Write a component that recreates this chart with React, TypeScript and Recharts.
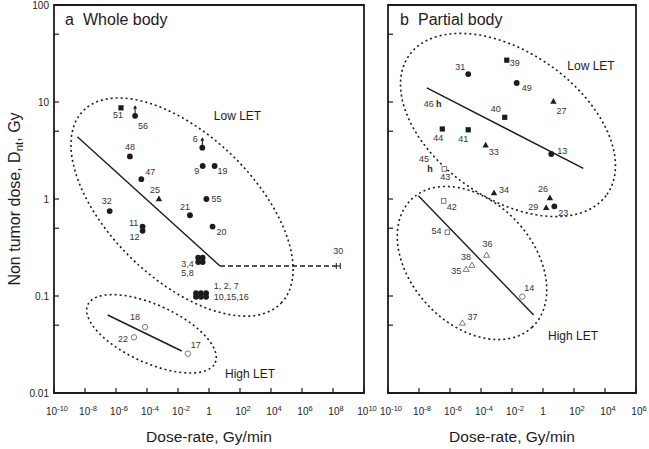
import React from "react";
import { ScatterChart, Scatter, XAxis, YAxis, ReferenceArea } from "recharts";

const FONT = "'Liberation Sans', Arial, Helvetica, sans-serif";
const INK = "#1c1c1c";
const OPEN = "#5a5a5a";

type Pt = { x: number; y: number; id: string };
type Ring = { c: number[]; u: number[]; v: number[] }; // centre + half axes, in decades

// ---------- panel a: whole body ----------
const A_DOTS: Pt[] = [
  { x: 7.9e-6, y: 2.75, id: "48" },
  { x: 4.3e-5, y: 1.6, id: "47" },
  { x: 0.39, y: 2.19, id: "9" },
  { x: 2.3, y: 2.19, id: "19" },
  { x: 0.68, y: 1.0, id: "55" },
  { x: 3.9e-7, y: 0.75, id: "32" },
  { x: 0.059, y: 0.68, id: "21" },
  { x: 1.7, y: 0.52, id: "20" },
  { x: 5.2e-5, y: 0.52, id: "11" },
  { x: 5.2e-5, y: 0.47, id: "12" },
  { x: 0.2, y: 0.248, id: "3,4" },
  { x: 0.39, y: 0.248, id: "" },
  { x: 0.2, y: 0.224, id: "5,8" },
  { x: 0.39, y: 0.224, id: "" },
  { x: 0.145, y: 0.107, id: "" },
  { x: 0.3, y: 0.107, id: "" },
  { x: 0.65, y: 0.107, id: "1, 2, 7" },
  { x: 0.145, y: 0.098, id: "" },
  { x: 0.3, y: 0.098, id: "" },
  { x: 0.65, y: 0.098, id: "10,15,16" },
];
const A_ARROW_DOTS: Pt[] = [
  { x: 1.7e-5, y: 7.2, id: "56" },
  { x: 0.37, y: 3.38, id: "6" },
];
const A_SQUARES: Pt[] = [{ x: 2.1e-6, y: 8.7, id: "51" }];
const A_TRIS: Pt[] = [{ x: 5.9e-4, y: 1.0, id: "25" }];
const A_OPEN_DOTS: Pt[] = [
  { x: 7.4e-5, y: 0.0478, id: "18" },
  { x: 1.45e-5, y: 0.0375, id: "22" },
  { x: 0.043, y: 0.0254, id: "17" },
];
const A_HBAR: Pt[] = [{ x: 2.2e8, y: 0.204, id: "30" }];
const A_LOW_FIT = [{ x: 3.2e-9, y: 4.39 }, { x: 5.1, y: 0.204 }];
const A_LOW_EXT = [{ x: 5.1, y: 0.204 }, { x: 2.2e8, y: 0.204 }];
const A_HIGH_FIT = [{ x: 2.9e-7, y: 0.0637 }, { x: 0.0174, y: 0.0271 }];
const A_LOW_RING: Ring = { c: [-1.74, -0.083], u: [6.4, -0.99], v: [3.23, 0.534] };
const A_HIGH_RING: Ring = { c: [-3.71, -1.39], u: [4.11, -0.299], v: [0.777, 0.272] };

// ---------- panel b: partial body ----------
const B_DOTS: Pt[] = [
  { x: 1.5e-5, y: 19.4, id: "31" },
  { x: 0.02, y: 15.7, id: "49" },
  { x: 3.4, y: 2.91, id: "13" },
  { x: 5.4, y: 0.84, id: "23" },
];
const B_SQUARES: Pt[] = [
  { x: 4.6e-3, y: 27, id: "39" },
  { x: 3.4e-3, y: 6.95, id: "40" },
  { x: 3.2e-7, y: 5.27, id: "44" },
  { x: 1.5e-5, y: 5.17, id: "41" },
];
const B_TRIS: Pt[] = [
  { x: 4.7, y: 10.1, id: "27" },
  { x: 2.0e-4, y: 3.57, id: "33" },
  { x: 6.9e-4, y: 1.15, id: "34" },
  { x: 2.8, y: 1.02, id: "26" },
  { x: 1.6, y: 0.81, id: "29" },
];
const B_H: Pt[] = [
  { x: 1.9e-7, y: 9.7, id: "46" },
  { x: 5.1e-8, y: 2.04, id: "45" },
];
const B_OPEN_SQUARES: Pt[] = [
  { x: 4.3e-7, y: 2.04, id: "43" },
  { x: 3.9e-7, y: 0.955, id: "42" },
  { x: 6.8e-7, y: 0.454, id: "54" },
];
const B_OPEN_TRIS: Pt[] = [
  { x: 2.3e-4, y: 0.263, id: "36" },
  { x: 2.6e-5, y: 0.207, id: "38" },
  { x: 1.1e-5, y: 0.188, id: "35" },
  { x: 6.3e-6, y: 0.0525, id: "37" },
];
const B_OPEN_DOTS: Pt[] = [{ x: 0.046, y: 0.0984, id: "14" }];
const B_LOW_FIT = [{ x: 3.2e-8, y: 14.0 }, { x: 400, y: 2.07 }];
const B_HIGH_FIT = [{ x: 9.1e-9, y: 1.08 }, { x: 0.25, y: 0.0637 }];
const B_LOW_RING: Ring = { c: [-2.26, 0.763], u: [6.39, -0.716], v: [2.7, 0.616] };
const B_HIGH_RING: Ring = { c: [-4.58, -0.66], u: [3.87, -0.663], v: [2.88, 0.429] };

// ---------- axes ----------
const A_XTICKS = [1e-10, 1e-8, 1e-6, 1e-4, 1e-2, 1, 1e2, 1e4, 1e6, 1e8, 1e10];
const B_XTICKS = [1e-10, 1e-8, 1e-6, 1e-4, 1e-2, 1, 1e2, 1e4, 1e6];
const Y_TICKS = [0.01, 0.05, 0.1, 0.5, 1, 5, 10, 50, 100];

// label placement per point id: [dx, dy, anchor]
const LABEL_POS: Record<string, [number, number, string?]> = {
  "51": [-3, 7], "56": [8, 10], "48": [0, -10], "47": [9, -8], "25": [-4, -9],
  "6": [-7, -9], "9": [-6, 5], "19": [8, 5], "55": [10, 0], "32": [-3, -10],
  "21": [-5, -9], "20": [9, 5], "11": [-9, -4], "12": [-8, 6],
  "3,4": [-10.6, 5.6], "5,8": [-10.6, 11],
  "1, 2, 7": [7.7, -7.5, "start"], "10,15,16": [7.7, 0, "start"],
  "30": [0, -15], "18": [-10, -10], "22": [-11, 1], "17": [8, -9],
  "39": [8, 3], "31": [-8, -7], "49": [10, 5], "27": [8, 9], "46": [-10, 0],
  "40": [-9, -9], "44": [-4, 9], "41": [-5, 9], "33": [8, 6], "13": [11, -3],
  "45": [-6, -10], "43": [1, 8], "34": [10, -3], "26": [-7, -9], "29": [-13, -1],
  "23": [9, 6], "42": [8, 6], "54": [-11, -2], "36": [1, -12], "38": [-6, -9],
  "35": [-10, 1], "14": [7, -9], "37": [10, -6],
};

function ring(e: Ring, n = 96) {
  const pts = [];
  for (let i = 0; i <= n; i++) {
    const t = (i / n) * 2 * Math.PI;
    const lx = e.c[0] + Math.cos(t) * e.u[0] + Math.sin(t) * e.v[0];
    const ly = e.c[1] + Math.cos(t) * e.u[1] + Math.sin(t) * e.v[1];
    pts.push({ x: 10 ** lx, y: 10 ** ly });
  }
  return pts;
}

const blank = () => <g />;

function mark(kind: string) {
  return (props: any) => {
    const { cx, cy, payload } = props;
    if (cx == null || cy == null) return <g />;
    let glyph: React.ReactNode = null;
    switch (kind) {
      case "dot":
        glyph = <circle cx={cx} cy={cy} r={2.9} fill={INK} />;
        break;
      case "arrowDot":
        glyph = (
          <g>
            <circle cx={cx} cy={cy} r={2.9} fill={INK} />
            <line x1={cx} x2={cx} y1={cy} y2={cy - 9} stroke={INK} strokeWidth={1.1} />
            <path d={`M${cx - 2},${cy - 7} L${cx},${cy - 10.5} L${cx + 2},${cy - 7} Z`} fill={INK} />
          </g>
        );
        break;
      case "square":
        glyph = <rect x={cx - 2.6} y={cy - 2.6} width={5.2} height={5.2} fill={INK} />;
        break;
      case "tri":
        glyph = <path d={`M${cx},${cy - 3.6} L${cx + 3.2},${cy + 2.2} L${cx - 3.2},${cy + 2.2} Z`} fill={INK} />;
        break;
      case "odot":
        glyph = <circle cx={cx} cy={cy} r={2.7} fill="#fff" stroke={OPEN} strokeWidth={0.8} />;
        break;
      case "osquare":
        glyph = <rect x={cx - 2.3} y={cy - 2.3} width={4.6} height={4.6} fill="#fff" stroke={OPEN} strokeWidth={0.8} />;
        break;
      case "otri":
        glyph = <path d={`M${cx},${cy - 3.3} L${cx + 3},${cy + 2} L${cx - 3},${cy + 2} Z`} fill="#fff" stroke={OPEN} strokeWidth={0.8} />;
        break;
      case "hbar":
        glyph = <path d={`M${cx - 2},${cy - 3} V${cy + 3} M${cx + 2},${cy - 3} V${cy + 3} M${cx - 2},${cy} H${cx + 2}`} stroke={INK} strokeWidth={1} fill="none" />;
        break;
      case "hglyph":
        glyph = (
          <text x={cx} y={cy + 3.5} textAnchor="middle" fontSize={9} fontWeight="bold" fontFamily={FONT} fill={INK}>
            h
          </text>
        );
        break;
    }
    const id: string = payload?.id ?? "";
    const pos = LABEL_POS[id];
    return (
      <g>
        {glyph}
        {id && pos && (
          <text x={cx + pos[0]} y={cy + pos[1] + 3.3} textAnchor={(pos[2] as any) ?? "middle"} fontSize={9} fontFamily={FONT} fill="#333">
            {id}
          </text>
        )}
      </g>
    );
  };
}

function XTick(props: any) {
  const { x, y, payload } = props;
  const e = Math.round(Math.log10(payload.value));
  return (
    <g>
      <line x1={x} x2={x} y1={y} y2={y - 5} stroke={INK} strokeWidth={1.2} />
      <text x={e === 0 ? x : x + 3} y={y + 22} textAnchor="middle" fontSize={10} fontFamily={FONT} fill={INK}>
        {e === 0 ? "1" : (
          <>
            10<tspan dy={-4.5} fontSize={7.5}>{e}</tspan>
          </>
        )}
      </text>
    </g>
  );
}

function YTick(props: any) {
  const { x, y, payload, showLabel } = props;
  const v = payload.value;
  const major = Math.abs(Math.log10(v) - Math.round(Math.log10(v))) < 1e-6;
  return (
    <g>
      <line x1={x} x2={x + 5} y1={y} y2={y} stroke={INK} strokeWidth={1.2} />
      {showLabel && major && (
        <text x={x - 5} y={y + 3.5} textAnchor="end" fontSize={10} fontFamily={FONT} fill={INK}>
          {String(v)}
        </text>
      )}
    </g>
  );
}

const dotted = { stroke: INK, strokeWidth: 1.6, strokeDasharray: "2 3" };
const solid = { stroke: INK, strokeWidth: 1.4 };
const dashed = { stroke: INK, strokeWidth: 1.4, strokeDasharray: "5 3" };

function axes(xTicks: number[], xMax: number, yWidth: number, showLabel: boolean) {
  return [
    <XAxis
      key="x"
      type="number"
      dataKey="x"
      scale="log"
      domain={[1e-10, xMax]}
      ticks={xTicks}
      interval={0}
      allowDataOverflow
      tickSize={0}
      tickMargin={0}
      tickLine={false}
      axisLine={false}
      height={30}
      tick={(p: any) => <XTick {...p} />}
    />,
    <YAxis
      key="y"
      type="number"
      dataKey="y"
      scale="log"
      domain={[0.01, 100]}
      ticks={Y_TICKS}
      interval={0}
      allowDataOverflow
      tickSize={0}
      tickMargin={0}
      tickLine={false}
      axisLine={false}
      width={yWidth}
      tick={(p: any) => <YTick {...p} showLabel={showLabel} />}
    />,
  ];
}

export default function App() {
  return (
    <div style={{ position: "absolute", left: 0, top: 0, width: 649, height: 449, background: "#fff", fontFamily: FONT }}>
      <div style={{ position: "absolute", left: 0, top: 0 }}>
        <ScatterChart width={382} height={449} margin={{ top: 5, right: 18, bottom: 26, left: 0 }}>
          {axes(A_XTICKS, 1e10, 54, true)}
          <Scatter data={ring(A_LOW_RING)} line={dotted} shape={blank} isAnimationActive={false} />
          <Scatter data={ring(A_HIGH_RING)} line={dotted} shape={blank} isAnimationActive={false} />
          <Scatter data={A_LOW_FIT} line={solid} shape={blank} isAnimationActive={false} />
          <Scatter data={A_LOW_EXT} line={dashed} shape={blank} isAnimationActive={false} />
          <Scatter data={A_HIGH_FIT} line={solid} shape={blank} isAnimationActive={false} />
          <Scatter data={A_DOTS} shape={mark("dot")} isAnimationActive={false} />
          <Scatter data={A_ARROW_DOTS} shape={mark("arrowDot")} isAnimationActive={false} />
          <Scatter data={A_SQUARES} shape={mark("square")} isAnimationActive={false} />
          <Scatter data={A_TRIS} shape={mark("tri")} isAnimationActive={false} />
          <Scatter data={A_OPEN_DOTS} shape={mark("odot")} isAnimationActive={false} />
          <Scatter data={A_HBAR} shape={mark("hbar")} isAnimationActive={false} />
          <ReferenceArea x1={1e-10} x2={1e10} y1={0.01} y2={100} fill="none" stroke={INK} strokeWidth={1.8} ifOverflow="visible" />
        </ScatterChart>
      </div>
      <div style={{ position: "absolute", left: 370, top: 0 }}>
        <ScatterChart width={279} height={449} margin={{ top: 5, right: 13, bottom: 26, left: 0 }}>
          {axes(B_XTICKS, 1e6, 18, false)}
          <Scatter data={ring(B_LOW_RING)} line={dotted} shape={blank} isAnimationActive={false} />
          <Scatter data={ring(B_HIGH_RING)} line={dotted} shape={blank} isAnimationActive={false} />
          <Scatter data={B_LOW_FIT} line={solid} shape={blank} isAnimationActive={false} />
          <Scatter data={B_HIGH_FIT} line={solid} shape={blank} isAnimationActive={false} />
          <Scatter data={B_DOTS} shape={mark("dot")} isAnimationActive={false} />
          <Scatter data={B_SQUARES} shape={mark("square")} isAnimationActive={false} />
          <Scatter data={B_TRIS} shape={mark("tri")} isAnimationActive={false} />
          <Scatter data={B_H} shape={mark("hglyph")} isAnimationActive={false} />
          <Scatter data={B_OPEN_SQUARES} shape={mark("osquare")} isAnimationActive={false} />
          <Scatter data={B_OPEN_TRIS} shape={mark("otri")} isAnimationActive={false} />
          <Scatter data={B_OPEN_DOTS} shape={mark("odot")} isAnimationActive={false} />
          <ReferenceArea x1={1e-10} x2={1e6} y1={0.01} y2={100} fill="none" stroke={INK} strokeWidth={1.8} ifOverflow="visible" />
        </ScatterChart>
      </div>
      <svg width={649} height={449} style={{ position: "absolute", left: 0, top: 0, pointerEvents: "none" }}>
        <g fontFamily={FONT} fill={INK}>
          <text x={65} y={25} fontSize={16}>a</text>
          <text x={83} y={25} fontSize={16}>Whole body</text>
          <text x={400} y={25} fontSize={16}>b</text>
          <text x={418} y={25} fontSize={16}>Partial body</text>
          <text x={237.5} y={120} fontSize={12} textAnchor="middle">Low LET</text>
          <text x={591} y={70} fontSize={12} textAnchor="middle">Low LET</text>
          <text x={250} y={377.5} fontSize={12} textAnchor="middle">High LET</text>
          <text x={573} y={340} fontSize={12} textAnchor="middle">High LET</text>
          <text x={209} y={442} fontSize={15.5} textAnchor="middle">Dose-rate, Gy/min</text>
          <text x={512} y={442} fontSize={15.5} textAnchor="middle">Dose-rate, Gy/min</text>
          <text transform="translate(20,199) rotate(-90)" fontSize={16} textAnchor="middle">
            Non tumor dose, D<tspan fontSize={11.5} dy={3}>nt</tspan>
            <tspan dy={-3}>, Gy</tspan>
          </text>
        </g>
      </svg>
    </div>
  );
}
